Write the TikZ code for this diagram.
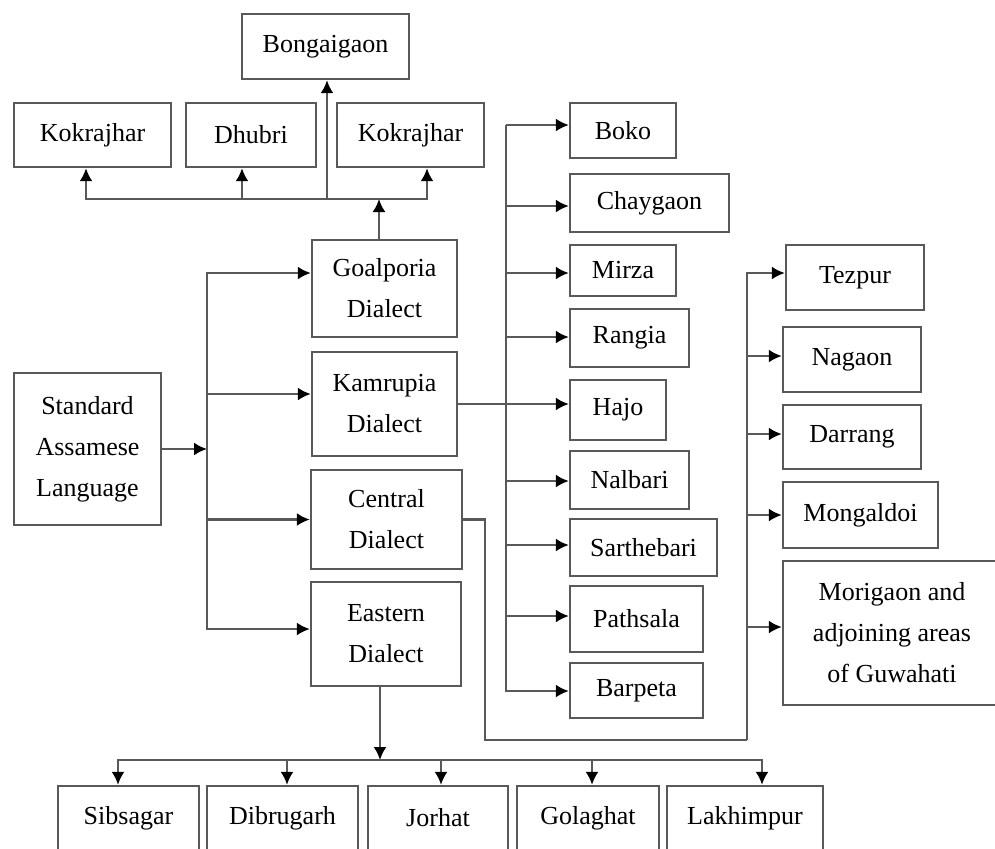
\documentclass[tikz,border=0pt]{standalone}
\usepackage{fontspec}
\setmainfont{Liberation Serif}
\usetikzlibrary{arrows.meta}

\begin{document}
\begin{tikzpicture}[x=0.5pt, y=-0.5pt,
     >={Latex[length=6.5pt, width=6.5pt, color=black]},
     font=\fontsize{13}{20.5}\selectfont,
     every node/.style = {draw=black!65, line width=1.2pt,
     align=center, inner sep=0pt},
     link/.style = {draw=black!65, line width=1.1pt}]
        \clip (0,0) rectangle (995,848);
        \node [minimum width=83.5pt, minimum height=32.5pt]
            at (325.5,46.5) (bong) {Bongaigaon};
        \node [minimum width=78.5pt, minimum height=32pt]
            at (92.5,135)   (kok1) {Kokrajhar};
        \node [minimum width=65pt, minimum height=32pt]
            at (251,135)    (dhub) {Dhubri};
        \node [minimum width=73.5pt, minimum height=32pt]
            at (410.5,135)  (kok2) {Kokrajhar};
        \node [minimum width=73.5pt, minimum height=76pt]
            at (87.5,449)   (stdl) {Standard\\Assamese\\Language};
        \node [minimum width=72.5pt, minimum height=48.5pt]
            at (384.5,288.5) (goal) {Goalporia\\Dialect};
        \node [minimum width=72.5pt, minimum height=52pt]
            at (384.5,404)  (kamr) {Kamrupia\\Dialect};
        \node [minimum width=75.5pt, minimum height=49.5pt]
            at (386.5,519.5) (cent) {Central\\Dialect};
        \node [minimum width=75pt, minimum height=52pt]
            at (386,634)    (east) {Eastern\\Dialect};
        \node [minimum width=53pt, minimum height=27.5pt]
            at (623,130.5)  (boko) {Boko};
        \node [minimum width=79.5pt, minimum height=29pt]
            at (649.5,203)  (chay) {Chaygaon};
        \node [minimum width=53pt, minimum height=25.5pt]
            at (623,270.5)  (mirz) {Mirza};
        \node [minimum width=59.5pt, minimum height=29pt]
            at (629.5,338)  (rang) {Rangia};
        \node [minimum width=48pt, minimum height=30pt]
            at (618,410)    (hajo) {Hajo};
        \node [minimum width=59.5pt, minimum height=29pt]
            at (629.5,480)  (nalb) {Nalbari};
        \node [minimum width=73.5pt, minimum height=28.5pt]
            at (643.5,547.5) (sart) {Sarthebari};
        \node [minimum width=66.5pt, minimum height=33pt]
            at (636.5,619)  (path) {Pathsala};
        \node [minimum width=66.5pt, minimum height=27.5pt]
            at (636.5,690.5) (barp) {Barpeta};
        \node [minimum width=69pt, minimum height=32.5pt]
            at (855,277.5)  (tezp) {Tezpur};
        \node [minimum width=69pt, minimum height=32.5pt]
            at (852,359.5)  (naga) {Nagaon};
        \node [minimum width=69pt, minimum height=32pt]
            at (852,437)    (darr) {Darrang};
        \node [minimum width=77.5pt, minimum height=33pt]
            at (860.5,515)  (mong) {Mongaldoi};
        \node [minimum width=109pt, minimum height=72pt]
            at (892,633)    (morg) {Morigaon and\\adjoining areas\\of Guwahati};
        \node [minimum width=70.5pt, minimum height=32pt]
            at (128.5,818)  (sibs) {Sibsagar};
        \node [minimum width=75.5pt, minimum height=32pt]
            at (282.5,818)  (dibr) {Dibrugarh};
        \node [minimum width=70pt, minimum height=32pt]
            at (438,818)    (jorh) {Jorhat};
        \node [minimum width=71pt, minimum height=32pt]
            at (588,818)    (golg) {Golaghat};
        \node [minimum width=78pt, minimum height=32pt]
            at (745,818)    (lakh) {Lakhimpur};
        \coordinate (gbus) at (379,199);
        \coordinate (sj)   at (207,449);
        \coordinate (ktop) at (506,125);
        \coordinate (cturn) at (485,740);
        \coordinate (cbot) at (747,740);
        \coordinate (ebus) at (380,760);
        \draw [link,->] (goal.north -| gbus) -- (gbus);
        \draw [link,->] (gbus) -| ([xshift=0.75pt]bong.south);
        \foreach \n/\d in {kok1/-3.25, dhub/-4.5, kok2/8.25}
            \draw [link,->] (gbus) -| ([xshift=\d pt]\n.south);
        \draw [link,->] (stdl.east) -- (sj);
        \foreach \n/\d in {goal/7.75, kamr/5, cent/0, east/2.5}
            \draw [link,->] (sj) |- ([yshift=\d pt]\n.west);
        \draw [link] (kamr.east) -- (kamr.east -| ktop);
        \foreach \n/\d in {boko/2.75, chay/-1.5, mirz/-1.25, rang/0.5,
                hajo/3, nalb/-0.5, sart/1.25, path/1.5, barp/-0.25}
            \draw [link,->] (ktop) |- ([yshift=\d pt]\n.west);
        \draw [link] (cent.east) -| (cturn) -- (cbot);
        \foreach \n/\d in {tezp/2.25, naga/1.75, darr/1.5, mong/0, morg/3}
            \draw [link,->] (cbot) |- ([yshift=\d pt]\n.west);
        \draw [link,->] (east.south -| ebus) -- (ebus);
        \foreach \n/\d in {sibs/-5.25, dibr/2.25, jorh/1.5, golg/2, lakh/8.5}
            \draw [link,->] (ebus) -| ([xshift=\d pt]\n.north);
\end{tikzpicture}
\end{document}
